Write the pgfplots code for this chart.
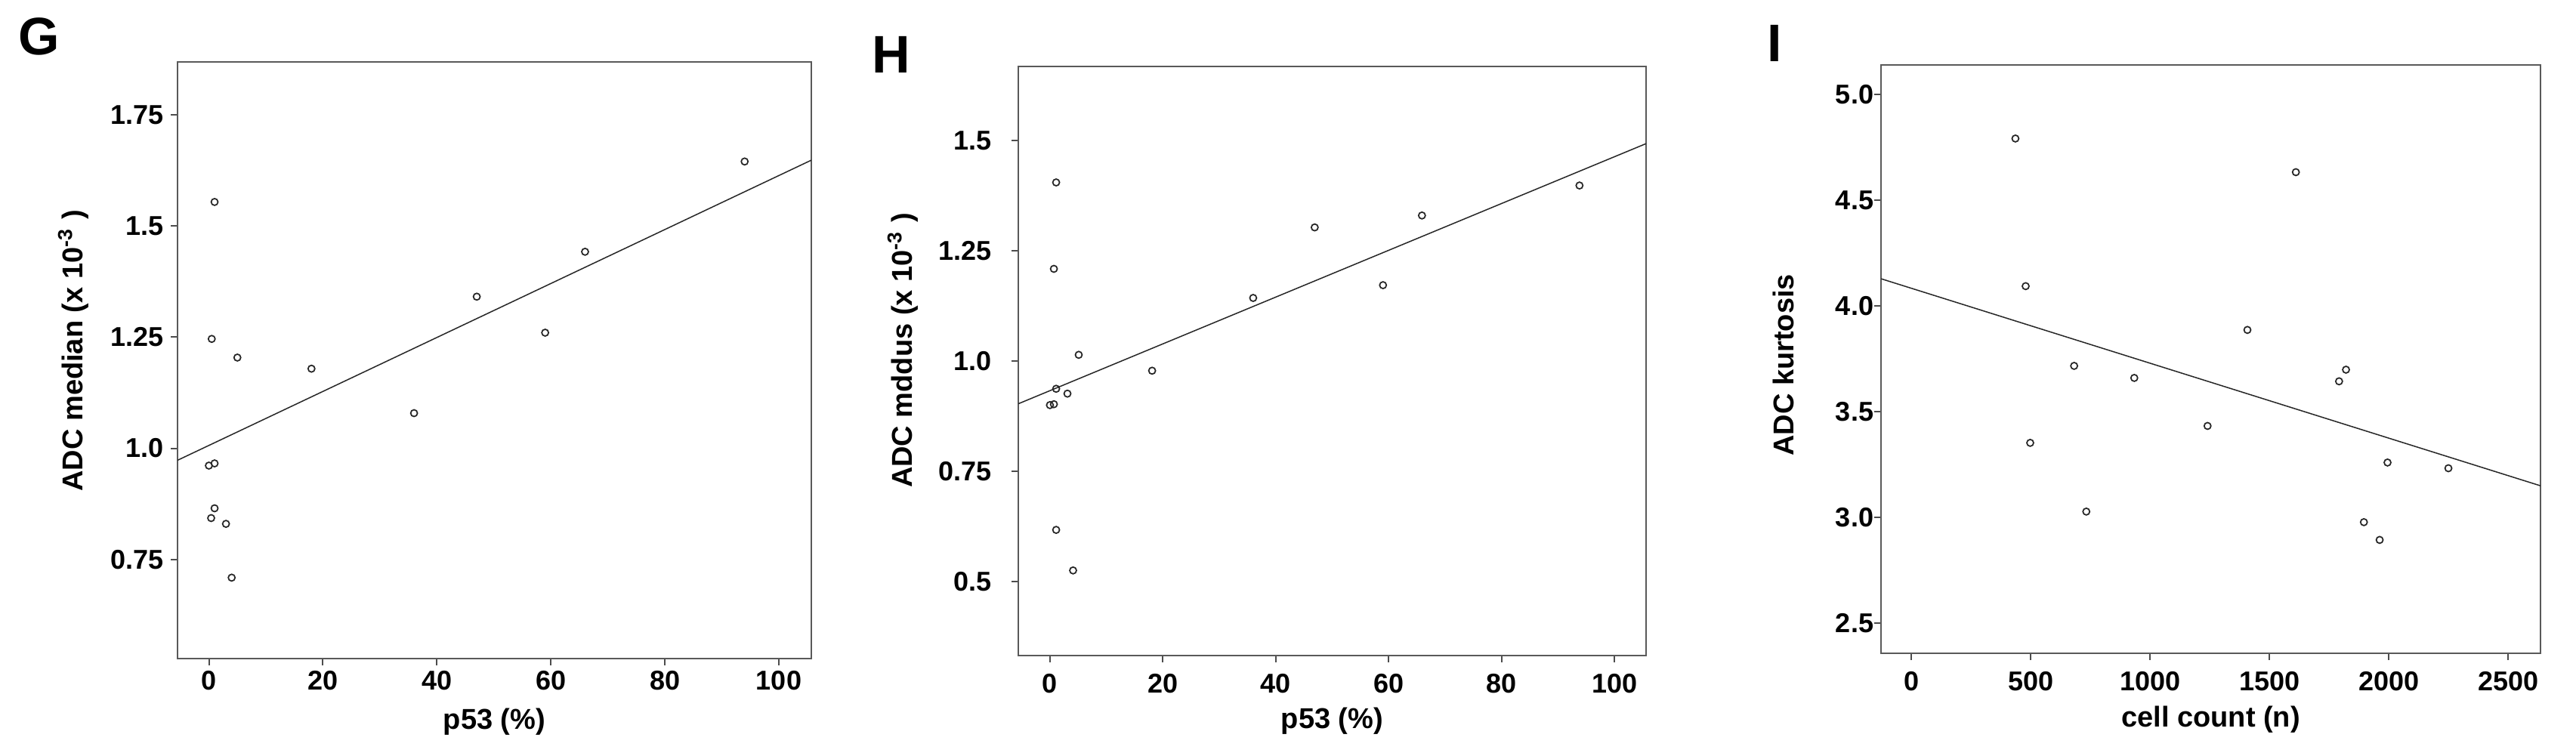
\documentclass[border=0pt]{standalone}
\usepackage{fontspec}
\setmainfont{Liberation Sans}
\usepackage{pgfplots}
\pgfplotsset{compat=1.18}

% 1 px of the reference = 0.2pt
\pgfplotsset{
  spss/.style={
    scale only axis,
    axis line style={black!65, line width=0.4pt},
    tick style={black!70, line width=0.4pt},
    tick align=outside,
    major tick length=1.8pt,
    tick pos=left,
    minor tick num=0,
    tick label style={font=\bfseries\fontsize{7.2}{8}\selectfont},
    label style={font=\bfseries\fontsize{7.6}{9}\selectfont},
    /pgf/number format/assume math mode=true,
    yticklabel style={anchor=east, inner xsep=0pt},
    xticklabel style={anchor=base, inner ysep=0pt},
  },
  dots/.style={only marks, mark=o, mark size=0.9pt, mark options={black!85, line width=0.35pt}},
  fit/.style={black!85, line width=0.3pt, no marks},
}

\begin{document}
\begin{tikzpicture}
\useasboundingbox (0,0) rectangle (682pt,200.2pt);

\node[font=\bfseries\fontsize{14}{16}\selectfont] at (10.4pt,190.6pt) {G};
\node[font=\bfseries\fontsize{14}{16}\selectfont] at (236pt,185.8pt) {H};
\node[font=\bfseries\fontsize{14}{16}\selectfont] at (469.8pt,188.8pt) {I};

% G: ADC median vs p53
\begin{axis}[spss,
  at={(47pt,25.8pt)}, anchor=south west,
  width=167.8pt, height=158pt,
  xmin=-5.5, xmax=105.7, ymin=0.527, ymax=1.869,
  xtick={0,20,40,60,80,100},
  xticklabels={0,20,40,60,80,100},
  ytick={0.75,1,1.25,1.5,1.75},
  yticklabels={0.75,1.0,1.25,1.5,1.75},
  xticklabel style={yshift=-6.6pt},
  yticklabel style={xshift=-1.6pt},
  xlabel={p53 (\%)},
  xlabel style={at={(axis description cs:0.5,0)}, anchor=base, yshift=-18.8pt},
  ylabel={ADC median (x 10\textsuperscript{-3}\ )},
  ylabel style={at={(axis description cs:-0.1645,0.516)}, anchor=center},
]
\addplot[fit] coordinates {(-5.5,0.973) (105.7,1.648)};
\addplot[dots] coordinates {
  (1,1.554) (94,1.645) (66,1.442) (47,1.341) (59,1.260)
  (0.5,1.246) (5,1.204) (18,1.179) (36,1.079) (0,0.961)
  (1,0.966) (1,0.865) (0.4,0.843) (3,0.830) (4,0.709)
};
\end{axis}

% H: ADC modus vs p53
\begin{axis}[spss,
  at={(269.6pt,26.6pt)}, anchor=south west,
  width=166.2pt, height=156pt,
  xmin=-5.6, xmax=105.6, ymin=0.332, ymax=1.668,
  xtick={0,20,40,60,80,100},
  xticklabels={0,20,40,60,80,100},
  ytick={0.5,0.75,1,1.25,1.5},
  yticklabels={0.5,0.75,1.0,1.25,1.5},
  xticklabel style={yshift=-8.2pt},
  yticklabel style={xshift=-5pt},
  xlabel={p53 (\%)},
  xlabel style={at={(axis description cs:0.5,0)}, anchor=base, yshift=-19.4pt},
  ylabel={ADC mddus (x 10\textsuperscript{-3}\ )},
  ylabel style={at={(axis description cs:-0.184,0.518)}, anchor=center},
]
\addplot[fit] coordinates {(-5.6,0.903) (105.6,1.493)};
\addplot[dots] coordinates {
  (1.1,1.405) (0.7,1.209) (46.9,1.303) (65.9,1.330) (93.8,1.398)
  (36,1.143) (59,1.172) (5.1,1.014) (18.1,0.978) (1.1,0.937)
  (3.1,0.926) (0,0.900) (0.7,0.902) (1.1,0.617) (4.1,0.525)
};
\end{axis}

% I: ADC kurtosis vs cell count
\begin{axis}[spss,
  at={(498pt,27.2pt)}, anchor=south west,
  width=174.6pt, height=155.8pt,
  xmin=-127, xmax=2636, ymin=2.357, ymax=5.139,
  xtick={0,500,1000,1500,2000,2500},
  xticklabels={0,500,1000,1500,2000,2500},
  ytick={2.5,3,3.5,4,4.5,5},
  yticklabels={2.5,3.0,3.5,4.0,4.5,5.0},
  xticklabel style={yshift=-8.2pt},
  yticklabel style={xshift=0pt},
  xlabel={cell count (n)},
  xlabel style={at={(axis description cs:0.5,0)}, anchor=base, yshift=-19.6pt},
  ylabel={ADC kurtosis},
  ylabel style={at={(axis description cs:-0.148,0.49)}, anchor=center},
]
\addplot[fit] coordinates {(-127,4.128) (2636,3.149)};
\addplot[dots] coordinates {
  (436,4.791) (1611,4.632) (479,4.093) (1408,3.886) (682,3.716)
  (934,3.659) (1821,3.698) (1792,3.643) (1241,3.432) (498,3.352)
  (1995,3.259) (2250,3.232) (733,3.027) (1896,2.977) (1962,2.893)
};
\end{axis}
\end{tikzpicture}
\end{document}
